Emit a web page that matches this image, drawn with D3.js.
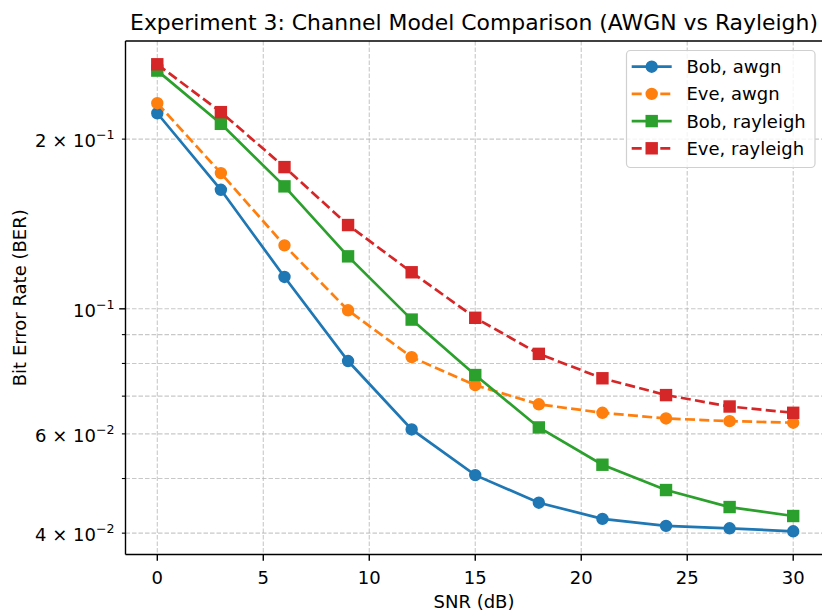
<!DOCTYPE html>
<html>
<head>
    <title>Experiment 3: Channel Model Comparison</title>
    <script src="https://d3js.org/d3.v7.min.js"></script>
    <style>
        body { margin: 0; background: #fff; }
        svg { display: block; font-family: "DejaVu Sans", sans-serif; }
    </style>
</head>
<body>
    <svg width="822" height="612"></svg>

    <script>
        // data
        var snr = [0, 3, 6, 9, 12, 15, 18, 21, 24, 27, 30];
        var bobAwgn = [0.2223, 0.1626, 0.1139, 0.0808, 0.0611, 0.0507, 0.0453, 0.0424, 0.0412, 0.0408, 0.0403];
        var eveAwgn = [0.2316, 0.1741, 0.1296, 0.0994, 0.0821, 0.0732, 0.0677, 0.0654, 0.0639, 0.0632, 0.0628];
        var bobRayleigh = [0.2646, 0.2129, 0.1649, 0.1239, 0.0957, 0.0763, 0.0616, 0.0529, 0.0477, 0.0445, 0.0429];
        var eveRayleigh = [0.2715, 0.2233, 0.1784, 0.1408, 0.1161, 0.0964, 0.0832, 0.0753, 0.0703, 0.0671, 0.0654];

        var seriesNames = ["Bob, awgn", "Eve, awgn", "Bob, rayleigh", "Eve, rayleigh"];
        var seriesColors = ["#1f77b4", "#ff7f0e", "#2ca02c", "#d62728"];

        var xTicks = [0, 5, 10, 15, 20, 25, 30];
        var yMajorTicks = [0.1];
        var yMinorTicks = [0.04, 0.05, 0.06, 0.07, 0.08, 0.09, 0.2];
        var yTickLabels = [
            {v: 0.2, mant: "2 \u00d7 10", exp: "\u22121"},
            {v: 0.1, mant: "10", exp: "\u22121"},
            {v: 0.06, mant: "6 \u00d7 10", exp: "\u22122"},
            {v: 0.04, mant: "4 \u00d7 10", exp: "\u22122"}
        ];

        var series = [
            {name: seriesNames[0], values: bobAwgn, color: seriesColors[0], marker: "circle", dash: null},
            {name: seriesNames[1], values: eveAwgn, color: seriesColors[1], marker: "circle", dash: "10,4.3"},
            {name: seriesNames[2], values: bobRayleigh, color: seriesColors[2], marker: "square", dash: null},
            {name: seriesNames[3], values: eveRayleigh, color: seriesColors[3], marker: "square", dash: "10,4.3"}
        ];

        var plotLeft = 125.5, plotTop = 41, plotBottom = 554.5, plotRight = 825;

        var x = d3.scaleLinear().domain([-1.5, 31.5]).range([plotLeft, plotRight]);
        var y = d3.scaleLog().domain([0.03666, 0.2986]).range([plotBottom, plotTop]);

        var svg = d3.select("svg");

        // clip for plotting area
        svg.append("clipPath").attr("id", "clip")
            .append("rect")
            .attr("x", plotLeft).attr("y", plotTop)
            .attr("width", plotRight - plotLeft).attr("height", plotBottom - plotTop);

        // grid
        var grid = svg.append("g")
            .attr("stroke", "#b0b0b0")
            .attr("stroke-opacity", 0.7)
            .attr("stroke-width", 1.1)
            .attr("stroke-dasharray", "4.5,2");

        grid.selectAll(".gx")
            .data(xTicks)
            .enter()
            .append("line")
            .attr("x1", function(d) { return x(d); })
            .attr("x2", function(d) { return x(d); })
            .attr("y1", plotTop).attr("y2", plotBottom);

        grid.selectAll(".gy")
            .data(yMajorTicks.concat(yMinorTicks))
            .enter()
            .append("line")
            .attr("x1", plotLeft).attr("x2", plotRight)
            .attr("y1", function(d) { return y(d); })
            .attr("y2", function(d) { return y(d); });

        // lines and markers
        var line = d3.line()
            .x(function(d, i) { return x(snr[i]); })
            .y(function(d) { return y(d); });

        var plot = svg.append("g").attr("clip-path", "url(#clip)");

        series.forEach(function(s) {
            plot.append("path")
                .attr("d", line(s.values))
                .attr("fill", "none")
                .attr("stroke", s.color)
                .attr("stroke-width", 2.7)
                .attr("stroke-dasharray", s.dash);

            drawMarkers(plot, s, s.values.map(function(v, i) { return [x(snr[i]), y(v)]; }));
        });

        function drawMarkers(g, s, pts) {
            if (s.marker === "circle") {
                g.selectAll(null)
                    .data(pts)
                    .enter()
                    .append("circle")
                    .attr("cx", function(d) { return d[0]; })
                    .attr("cy", function(d) { return d[1]; })
                    .attr("r", 5.4)
                    .attr("fill", s.color)
                    .attr("stroke", s.color)
                    .attr("stroke-width", 1.6);
            } else {
                g.selectAll(null)
                    .data(pts)
                    .enter()
                    .append("rect")
                    .attr("x", function(d) { return d[0] - 5.4; })
                    .attr("y", function(d) { return d[1] - 5.4; })
                    .attr("width", 10.8)
                    .attr("height", 10.8)
                    .attr("fill", s.color)
                    .attr("stroke", s.color)
                    .attr("stroke-width", 1.6);
            }
        }

        // spines
        svg.append("line")
            .attr("x1", plotLeft).attr("x2", plotLeft).attr("y1", plotTop).attr("y2", plotBottom)
            .attr("stroke", "#000").attr("stroke-width", 1.4);
        svg.append("line")
            .attr("x1", plotLeft).attr("x2", plotRight).attr("y1", plotBottom).attr("y2", plotBottom)
            .attr("stroke", "#000").attr("stroke-width", 1.4);
        svg.append("line")
            .attr("x1", plotLeft).attr("x2", plotRight).attr("y1", plotTop).attr("y2", plotTop)
            .attr("stroke", "#000").attr("stroke-width", 1.4);

        // x ticks
        svg.selectAll(".xtick")
            .data(xTicks)
            .enter()
            .append("line")
            .attr("x1", function(d) { return x(d); })
            .attr("x2", function(d) { return x(d); })
            .attr("y1", plotBottom).attr("y2", plotBottom + 6.3)
            .attr("stroke", "#000").attr("stroke-width", 1.4);

        svg.selectAll(".xlabel")
            .data(xTicks)
            .enter()
            .append("text")
            .attr("x", function(d) { return x(d); })
            .attr("y", 583.5)
            .attr("text-anchor", "middle")
            .style("font-size", "18px")
            .text(function(d) { return d; });

        // y ticks
        svg.selectAll(".ymajor")
            .data(yMajorTicks)
            .enter()
            .append("line")
            .attr("x1", plotLeft - 6.3).attr("x2", plotLeft)
            .attr("y1", function(d) { return y(d); })
            .attr("y2", function(d) { return y(d); })
            .attr("stroke", "#000").attr("stroke-width", 1.4);

        svg.selectAll(".yminor")
            .data(yMinorTicks)
            .enter()
            .append("line")
            .attr("x1", plotLeft - 3.6).attr("x2", plotLeft)
            .attr("y1", function(d) { return y(d); })
            .attr("y2", function(d) { return y(d); })
            .attr("stroke", "#000").attr("stroke-width", 1.1);

        var ylab = svg.selectAll(".ylabel")
            .data(yTickLabels)
            .enter()
            .append("text")
            .attr("x", 114.5)
            .attr("y", function(d) { return y(d.v) + 7.7; })
            .attr("text-anchor", "end")
            .style("font-size", "18px");
        ylab.append("tspan").text(function(d) { return d.mant; });
        ylab.append("tspan")
            .attr("dy", -8)
            .style("font-size", "12.6px")
            .text(function(d) { return d.exp; });

        // axis labels and title
        svg.append("text")
            .attr("x", 474)
            .attr("y", 608)
            .attr("text-anchor", "middle")
            .style("font-size", "18px")
            .text("SNR (dB)");

        svg.append("text")
            .attr("transform", "translate(26," + ((plotTop + plotBottom) / 2) + ") rotate(-90)")
            .attr("text-anchor", "middle")
            .style("font-size", "18px")
            .text("Bit Error Rate (BER)");

        svg.append("text")
            .attr("x", 474)
            .attr("y", 30)
            .attr("text-anchor", "middle")
            .style("font-size", "21.9px")
            .text("Experiment 3: Channel Model Comparison (AWGN vs Rayleigh)");

        // legend
        var legend = svg.append("g");
        legend.append("rect")
            .attr("x", 626.5).attr("y", 50.5)
            .attr("width", 188.5).attr("height", 117)
            .attr("rx", 4)
            .attr("fill", "#fff").attr("fill-opacity", 0.8)
            .attr("stroke", "#d0d0d0").attr("stroke-width", 1.2);

        series.forEach(function(s, i) {
            var cy = 66.7 + i * 27.2;
            legend.append("line")
                .attr("x1", 631.7).attr("x2", 671.7)
                .attr("y1", cy).attr("y2", cy)
                .attr("stroke", s.color)
                .attr("stroke-width", 2.7)
                .attr("stroke-dasharray", s.dash);
            drawMarkers(legend, s, [[651.7, cy]]);
            legend.append("text")
                .attr("x", 686.5)
                .attr("y", cy + 6.5)
                .style("font-size", "18px")
                .text(s.name);
        });
    </script>
</body>
</html>
